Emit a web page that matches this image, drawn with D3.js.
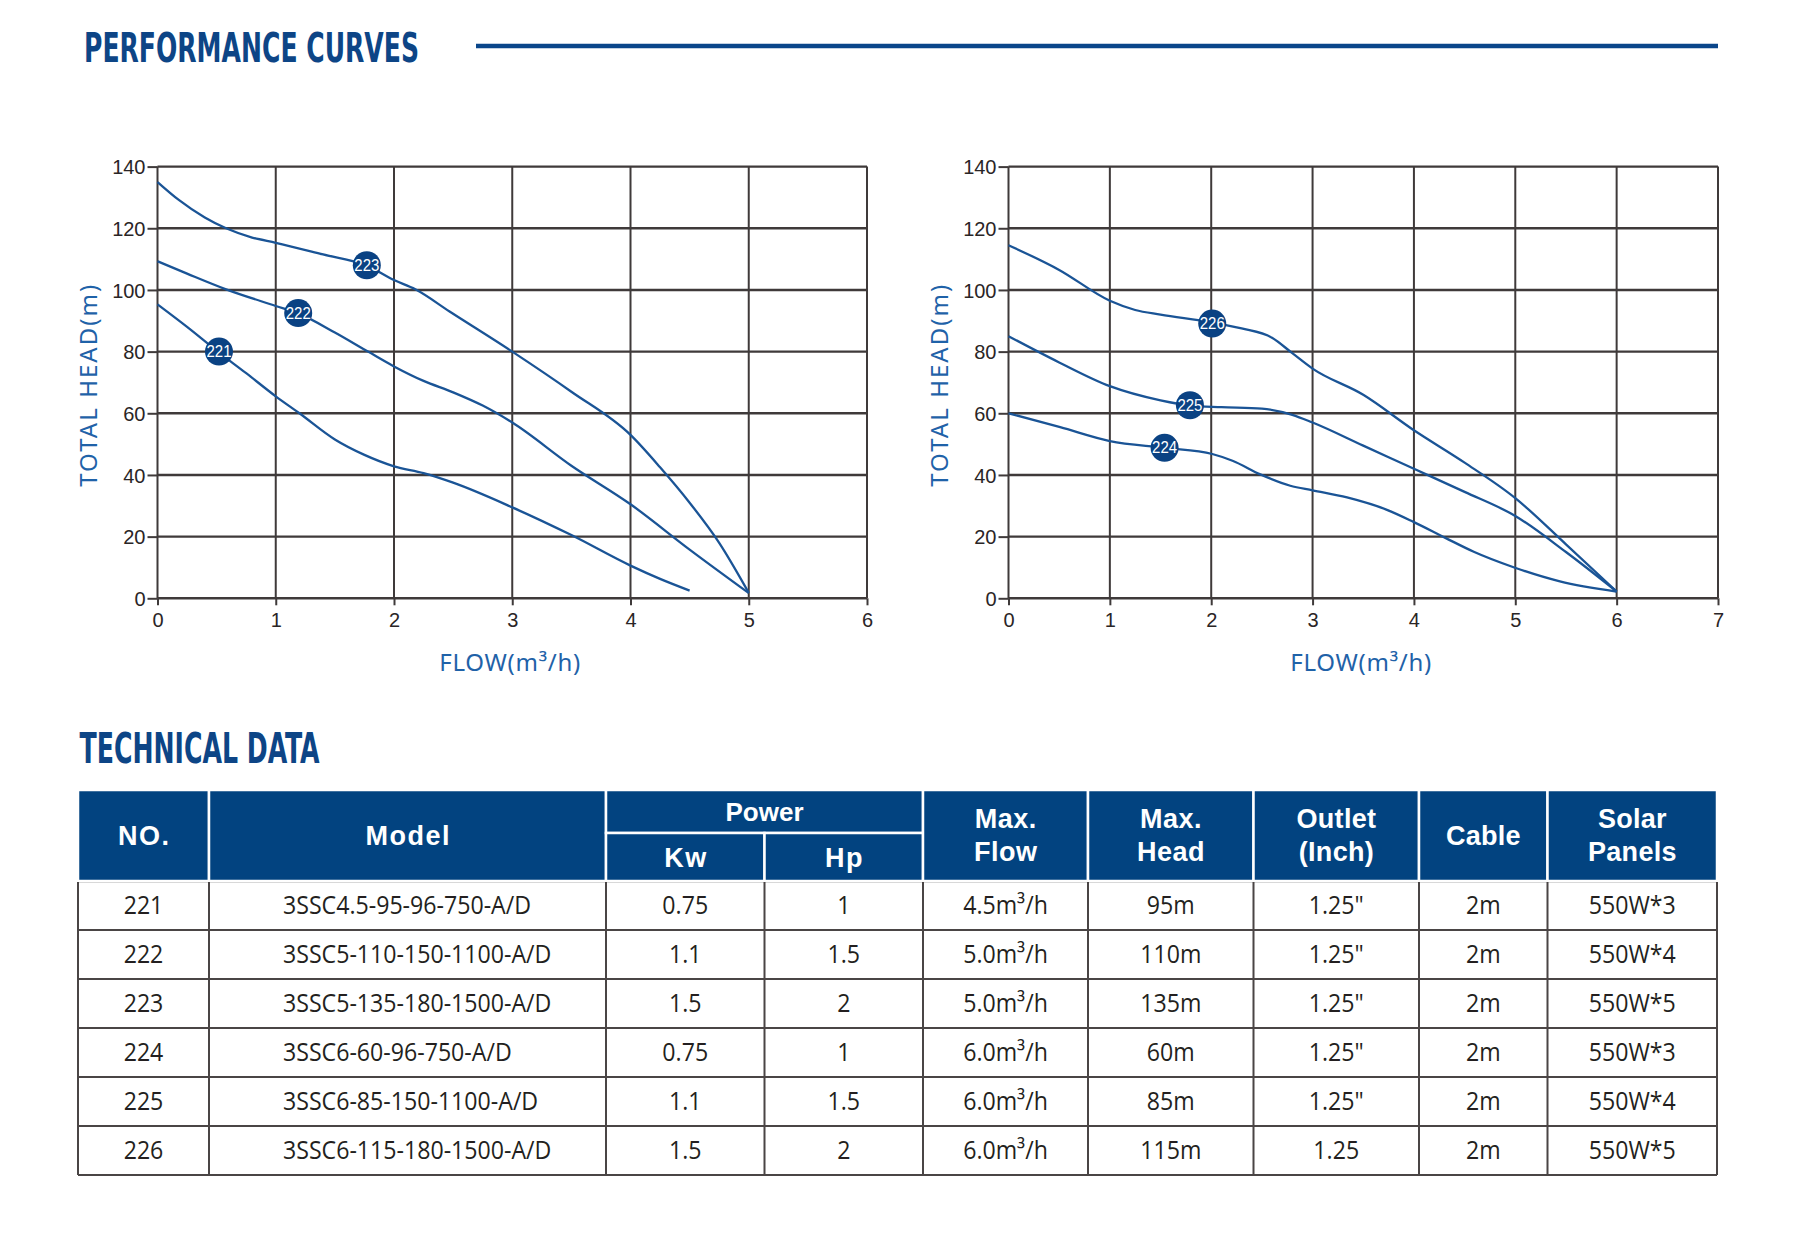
<!DOCTYPE html>
<html>
<head>
<meta charset="utf-8">
<script src="https://cdnjs.cloudflare.com/ajax/libs/d3/7.8.5/d3.min.js"></script>
<style>
  body { margin: 0; background: #fff; }
  svg { display: block; }
</style>
</head>
<body>
<svg id="page" width="1800" height="1260"></svg>
<script>
// ---- chart data (flow m3/h, head m) ----
const headTicks = [0, 20, 40, 60, 80, 100, 120, 140];
const leftFlowTicks = [0, 1, 2, 3, 4, 5, 6];
const rightFlowTicks = [0, 1, 2, 3, 4, 5, 6, 7];

const curve221 = [[0, 95.3], [0.25, 88], [0.51, 80], [0.75, 73], [1, 65.5], [1.2, 60], [1.5, 51.5], [1.75, 46.5],
  [2, 42.8], [2.25, 40.6], [2.5, 37.5], [3, 29.5], [3.5, 20.5], [4, 10.6], [4.25, 6.3], [4.5, 2.5]];
const curve222 = [[0, 109.3], [0.25, 105.3], [0.58, 100.2], [1, 94.8], [1.19, 92.4], [1.5, 86.2], [1.78, 80],
  [2, 75.2], [2.25, 70.5], [2.5, 66.8], [2.75, 62.5], [3, 57], [3.5, 43], [4, 30.5], [4.5, 15.8], [5, 1.7]];
const curve223 = [[0, 135], [0.18, 129.2], [0.4, 123.5], [0.58, 120], [0.8, 117], [1, 115.3], [1.4, 111.5],
  [1.77, 107.9], [2, 103.2], [2.18, 100.2], [2.47, 93], [3, 80], [3.5, 67], [4, 53], [4.25, 42.5], [4.5, 31],
  [4.75, 18], [5, 1.8]];
const curve224 = [[0, 60], [0.51, 55.5], [1, 51], [1.54, 48.8], [2.01, 46.8], [2.21, 44.6], [2.49, 40.1],
  [2.78, 36.5], [3, 35], [3.34, 32.7], [3.74, 28.6], [4, 24.7], [4.31, 19.6], [4.59, 15.1], [4.99, 10],
  [5.44, 5.5], [6, 2.2]];
const curve225 = [[0, 85], [0.5, 76.5], [1, 68.8], [1.5, 64.2], [1.8, 62.5], [2.1, 62], [2.5, 61.5], [2.8, 59.5],
  [3, 57], [3.5, 49.5], [4, 42], [4.5, 34.5], [5, 26.7], [5.5, 15], [6, 2.2]];
const curve226 = [[0, 114.5], [0.5, 106.5], [1, 96.5], [1.25, 93.5], [1.5, 92], [2, 89.5], [2.3, 87.5],
  [2.6, 84.5], [2.8, 79.5], [3, 74.5], [3.5, 66], [4, 54.5], [4.5, 44], [5, 32.5], [5.5, 17.5], [6, 2.2]];

const leftLabels = ["221", "222", "223"];
const leftMarkers = [[0.52, 80], [1.19, 92.5], [1.77, 108]];
const rightLabels = ["224", "225", "226"];
const rightMarkers = [[1.54, 48.8], [1.79, 62.6], [2.01, 89.1]];

// ---- technical data table ----
const pumpNo = ["221", "222", "223", "224", "225", "226"];
const models = ["3SSC4.5-95-96-750-A/D", "3SSC5-110-150-1100-A/D", "3SSC5-135-180-1500-A/D",
  "3SSC6-60-96-750-A/D", "3SSC6-85-150-1100-A/D", "3SSC6-115-180-1500-A/D"];
const powerKw = ["0.75", "1.1", "1.5", "0.75", "1.1", "1.5"];
const powerHp = ["1", "1.5", "2", "1", "1.5", "2"];
const maxFlow = ["4.5m³/h", "5.0m³/h", "5.0m³/h", "6.0m³/h", "6.0m³/h", "6.0m³/h"];
const maxHead = ["95m", "110m", "135m", "60m", "85m", "115m"];
const outlet = ["1.25\"", "1.25\"", "1.25\"", "1.25\"", "1.25\"", "1.25"];
const cable = ["2m", "2m", "2m", "2m", "2m", "2m"];
const solar = ["550W*3", "550W*4", "550W*5", "550W*3", "550W*4", "550W*5"];

const BLUE = "#0d4586";
const HEADER_BLUE = "#024380";
const CURVE = "#1a5496";
const AXIS_TITLE = "#1f62a8";
const GRID = "#3f3a3a";
const TEXT = "#2a2526";

const svg = d3.select("#page");

//section titles
const titleFont = "'Liberation Sans Narrow', 'DejaVu Sans Condensed', 'Liberation Sans', sans-serif";
svg.append("text")
  .attr("x", 84).attr("y", 61.5)
  .attr("font-family", titleFont).attr("font-weight", "bold").attr("font-size", 41)
  .attr("textLength", 335).attr("lengthAdjust", "spacingAndGlyphs")
  .attr("fill", BLUE)
  .text("PERFORMANCE CURVES");
svg.append("line")
  .attr("x1", 476).attr("x2", 1718).attr("y1", 46).attr("y2", 46)
  .attr("stroke", "#0a468a").attr("stroke-width", 4.5);
svg.append("text")
  .attr("x", 79.5).attr("y", 763)
  .attr("font-family", titleFont).attr("font-weight", "bold").attr("font-size", 42)
  .attr("textLength", 240).attr("lengthAdjust", "spacingAndGlyphs")
  .attr("fill", BLUE)
  .text("TECHNICAL DATA");

//draw one performance chart
function drawChart(xRange, flowTicks, curves, labels, markers) {
  const x = d3.scaleLinear().domain([0, d3.max(flowTicks)]).range(xRange);
  const y = d3.scaleLinear().domain([0, 140]).range([598.3, 166.6]);
  const g = svg.append("g");

  //grid
  g.append("g").selectAll("line").data(flowTicks).enter().append("line")
    .attr("x1", d => x(d)).attr("x2", d => x(d))
    .attr("y1", y(0)).attr("y2", y(140))
    .attr("stroke", GRID).attr("stroke-width", 2);
  g.append("g").selectAll("line").data(headTicks).enter().append("line")
    .attr("x1", x(0)).attr("x2", x(d3.max(flowTicks)))
    .attr("y1", d => y(d)).attr("y2", d => y(d))
    .attr("stroke", GRID).attr("stroke-width", 2.4);

  //axes
  const yAxis = g.append("g")
    .attr("transform", `translate(${x(0)},0)`)
    .call(d3.axisLeft(y).tickValues(headTicks).tickFormat(d3.format("d"))
      .tickSize(10).tickPadding(2).tickSizeOuter(0));
  const xAxis = g.append("g")
    .attr("transform", `translate(0,${y(0)})`)
    .call(d3.axisBottom(x).tickValues(flowTicks).tickFormat(d3.format("d"))
      .tickSize(7).tickPadding(8).tickSizeOuter(0));
  [yAxis, xAxis].forEach(a => {
    a.select(".domain").remove();
    a.selectAll(".tick line").attr("stroke", GRID).attr("stroke-width", 2);
    a.selectAll(".tick text")
      .attr("font-family", "'Liberation Sans', Arial, sans-serif")
      .attr("font-size", 20).attr("fill", TEXT);
  });
  yAxis.selectAll(".tick text").attr("dy", "0.36em");

  //axis titles
  g.append("text")
    .attr("transform", `translate(${x(0) - 60.5},385.8) rotate(-90)`)
    .attr("text-anchor", "middle")
    .attr("font-family", "'Noto Sans', 'Open Sans', sans-serif").attr("font-size", 24)
    .attr("textLength", 202).attr("lengthAdjust", "spacing")
    .attr("fill", AXIS_TITLE)
    .text("TOTAL HEAD(m)");
  g.append("text")
    .attr("x", (xRange[0] + xRange[1]) / 2 - 2.5).attr("y", 670.7)
    .attr("text-anchor", "middle")
    .attr("font-family", "'Noto Sans', 'Open Sans', sans-serif").attr("font-size", 24)
    .attr("textLength", 141).attr("lengthAdjust", "spacing")
    .attr("fill", AXIS_TITLE)
    .text("FLOW(m³/h)");

  //curves
  const line = d3.line().x(d => x(d[0])).y(d => y(d[1])).curve(d3.curveMonotoneX);
  g.append("g").selectAll("path").data(curves).enter().append("path")
    .attr("d", line)
    .attr("fill", "none")
    .attr("stroke", CURVE).attr("stroke-width", 2.3)
    .attr("stroke-linejoin", "round");

  //model markers
  const m = g.append("g").selectAll("g").data(markers).enter().append("g")
    .attr("transform", d => `translate(${x(d[0])},${y(d[1])})`);
  m.append("circle").attr("r", 14).attr("fill", "#0a4283");
  m.append("text")
    .attr("text-anchor", "middle").attr("y", 5.6)
    .attr("font-family", "'Liberation Sans', Arial, sans-serif").attr("font-size", 16)
    .attr("textLength", 25).attr("lengthAdjust", "spacingAndGlyphs")
    .attr("fill", "#fff")
    .text((d, i) => labels[i]);
}

drawChart([157.5, 867], leftFlowTicks, [curve221, curve222, curve223], leftLabels, leftMarkers);
drawChart([1008.5, 1718], rightFlowTicks, [curve224, curve225, curve226], rightLabels, rightMarkers);

//table
const colX = [78, 209, 606, 764.5, 923, 1088, 1253.5, 1419, 1547.5, 1717];
const headTop = 790, headSplit = 833, headBottom = 881;
const rowY = d3.scaleBand().domain(pumpNo).range([headBottom, headBottom + 49 * pumpNo.length]);

const headerCells = [
  { c0: 0, c1: 1, y0: headTop, y1: headBottom, lines: ["NO."], size: 27, ls: 1.5 },
  { c0: 1, c1: 2, y0: headTop, y1: headBottom, lines: ["Model"], size: 27, ls: 1.5 },
  { c0: 2, c1: 4, y0: headTop, y1: headSplit, lines: ["Power"], size: 26, ls: 0 },
  { c0: 2, c1: 3, y0: headSplit, y1: headBottom, lines: ["Kw"], size: 27, ls: 1.5 },
  { c0: 3, c1: 4, y0: headSplit, y1: headBottom, lines: ["Hp"], size: 27, ls: 1.5 },
  { c0: 4, c1: 5, y0: headTop, y1: headBottom, lines: ["Max.", "Flow"], size: 27, ls: 0.5 },
  { c0: 5, c1: 6, y0: headTop, y1: headBottom, lines: ["Max.", "Head"], size: 27, ls: 0.5 },
  { c0: 6, c1: 7, y0: headTop, y1: headBottom, lines: ["Outlet", "(Inch)"], size: 27, ls: 0.3 },
  { c0: 7, c1: 8, y0: headTop, y1: headBottom, lines: ["Cable"], size: 27, ls: 0.3 },
  { c0: 8, c1: 9, y0: headTop, y1: headBottom, lines: ["Solar", "Panels"], size: 27, ls: 0.3 }
];

const table = svg.append("g");
const hc = table.selectAll("g.head").data(headerCells).enter().append("g").attr("class", "head");
hc.append("rect")
  .attr("x", d => colX[d.c0]).attr("y", d => d.y0)
  .attr("width", d => colX[d.c1] - colX[d.c0]).attr("height", d => d.y1 - d.y0)
  .attr("fill", HEADER_BLUE).attr("stroke", "#fff").attr("stroke-width", 2.5);
hc.each(function (d) {
  const cx = (colX[d.c0] + colX[d.c1]) / 2 + d.ls / 2;
  const mid = (d.y0 + d.y1) / 2;
  const base = d.lines.length === 2 ? [mid - 7.5, mid + 25.5] : [mid + 9.5];
  d3.select(this).selectAll("text").data(d.lines).enter().append("text")
    .attr("x", cx).attr("y", (t, i) => base[i])
    .attr("text-anchor", "middle")
    .attr("font-family", "'Liberation Sans', Arial, sans-serif").attr("font-weight", "bold")
    .attr("font-size", d.size).attr("letter-spacing", d.ls)
    .attr("fill", "#fff")
    .text(t => t);
});

//body grid
const bodyBottom = rowY.range()[1];
table.append("line")
  .attr("x1", colX[0]).attr("x2", colX[9]).attr("y1", headBottom + 1.5).attr("y2", headBottom + 1.5)
  .attr("stroke", "#d8d8d8").attr("stroke-width", 1);
table.append("g").selectAll("line").data(pumpNo).enter().append("line")
  .attr("x1", colX[0]).attr("x2", colX[9])
  .attr("y1", d => rowY(d) + rowY.bandwidth()).attr("y2", d => rowY(d) + rowY.bandwidth())
  .attr("stroke", "#4a4545").attr("stroke-width", 2.2);
table.append("g").selectAll("line").data(colX).enter().append("line")
  .attr("x1", d => d).attr("x2", d => d)
  .attr("y1", headBottom + 1).attr("y2", bodyBottom)
  .attr("stroke", "#4a4545").attr("stroke-width", 2);

//body text
const columns = [pumpNo, models, powerKw, powerHp, maxFlow, maxHead, outlet, cable, solar];
columns.forEach((col, ci) => {
  const leftAlign = ci === 1;
  const tx = leftAlign ? 283 : (colX[ci] + colX[ci + 1]) / 2;
  table.append("g").selectAll("text").data(col).enter().append("text")
    .attr("transform", (d, i) => `translate(${tx},${rowY(pumpNo[i]) + rowY.bandwidth() / 2 + 8.5}) scale(0.89,1)`)
    .attr("text-anchor", leftAlign ? "start" : "middle")
    .attr("font-family", "'Open Sans', 'Noto Sans', sans-serif").attr("font-size", 26)
    .attr("fill", "#231f20")
    .text(d => d);
});
</script>
</body>
</html>
